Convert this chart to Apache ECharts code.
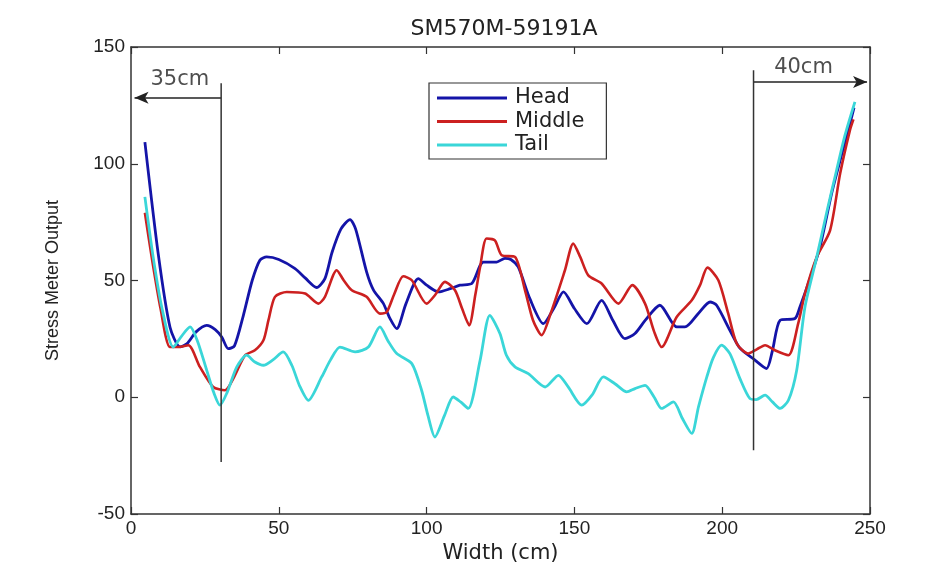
<!DOCTYPE html>
<html>
<head>
<meta charset="utf-8">
<script src="https://cdn.jsdelivr.net/npm/echarts@6/dist/echarts.min.js"></script>
<style>
  html, body { margin: 0; padding: 0; background: #ffffff; }
  #chart { width: 948px; height: 576px; }
</style>
</head>
<body>
<div id="chart"></div>
<script>
// Stress meter readings across the strip width, three measurement passes
const headX = [4.7, 9.2, 13.2, 16.6, 19, 22, 25.6, 28.5, 30.7, 32.9, 35, 38, 41, 43.6, 45.9, 50, 55.5, 59, 62.8, 65.6, 68, 71, 74.1, 76, 79.7, 82, 85.4, 87.5, 89.9, 93, 97.2, 100, 104, 108, 111.3, 115.3, 119.2, 123.7, 126.5, 128.5, 131, 135, 139.5, 143, 146.3, 150, 154.2, 159.2, 163, 167.1, 170.5, 174, 178.9, 184.6, 187.4, 192, 195.9, 198.1, 202.6, 206, 211, 215, 217, 219.6, 224.6, 226.3, 230, 233.1, 237, 240, 243.2, 244.6];
const headY = [109.3, 61.5, 30, 21.6, 23, 28, 30.8, 29, 25.8, 20.8, 22, 35, 50, 58.7, 60.1, 59, 55.1, 51, 47, 50.8, 62, 72, 76.1, 72, 53.7, 46, 40.1, 34, 29.4, 40, 50.8, 48, 45.1, 46.5, 48, 48.7, 57.9, 57.9, 59.5, 59, 55.8, 42, 31.5, 38, 45.1, 38, 31.5, 41.5, 33, 25.1, 27.3, 33, 39.4, 30.1, 30.1, 36, 40.8, 39.4, 28.7, 21, 16, 12.3, 20, 33, 33.7, 38.7, 52, 64.4, 87.2, 102, 117.2, 124];

const middleX = [4.7, 7, 10, 13.2, 16, 19.4, 23.3, 27.8, 31.8, 35, 38.6, 41.9, 44.8, 46.5, 48.7, 52.7, 58.9, 63.4, 65.6, 69.6, 72, 74.7, 79.7, 84.2, 86.5, 89, 92.1, 95, 100, 103, 106.2, 109.6, 112, 114.4, 116.5, 118.1, 120.3, 123.1, 125.4, 129.9, 133.3, 136, 138.9, 142, 146.8, 149.6, 152, 154.7, 159.2, 164.9, 169.6, 173.9, 177, 179.5, 184.6, 189.7, 192.5, 195, 198.7, 202, 204.9, 208.8, 211.7, 214.5, 218, 222.4, 225.7, 228, 232, 236.5, 239.9, 243.2, 244.4];
const middleY = [79, 60, 38, 21.5, 21.5, 22.3, 13, 4.4, 3, 9, 18, 20.1, 24.4, 33, 43, 45.1, 44.4, 40.1, 43, 54.4, 50, 45.8, 43, 35.8, 36.5, 44, 51.8, 50.1, 40.1, 44, 49.4, 45.8, 38, 30.8, 44, 55.8, 68, 67.2, 60.8, 60.1, 45.8, 33, 26.6, 36, 54.4, 65.8, 60, 52.2, 48.7, 40.1, 48, 40.1, 28, 21.5, 34.4, 41.5, 48, 55.5, 50.1, 36, 23, 18.7, 20.5, 22.3, 20, 18, 31.5, 44.4, 60.1, 71.5, 95.8, 114.3, 119];

const tailX = [4.7, 7.5, 10.5, 14.3, 17, 20, 22.5, 25.6, 28, 30.1, 32.5, 35.8, 39.1, 41.9, 44.8, 48, 51.5, 54.4, 57, 60, 64.5, 67.5, 70.7, 75.8, 80.3, 84.2, 87, 89.9, 95, 98.3, 100.5, 102.8, 106, 109, 111.5, 114.1, 118.1, 121.4, 124.8, 127, 129.9, 134.4, 140.1, 144.6, 147.9, 152.5, 156, 159.8, 163.7, 167.7, 170.5, 173.9, 177, 179.5, 183.5, 186.5, 189.7, 192, 194.8, 197, 199.8, 202.6, 206, 209.4, 211.5, 214.5, 217, 219.6, 222.4, 225.2, 228, 232, 235.5, 238.7, 241.5, 244.9];
const tailY = [85.8, 60, 38, 21.5, 26, 30.1, 24, 11.6, 2, -3.4, 2, 13, 18, 15.1, 13.7, 16, 19.4, 13.7, 5, -1.3, 8.7, 16, 21.5, 19.4, 21.5, 30.1, 24, 18.7, 14.4, 3, -8, -17, -8, 0.1, -2, -4.8, 15.8, 35.1, 27.3, 18, 13, 10.1, 4.4, 9.4, 4.4, -3.4, 1, 8.7, 5.8, 2.3, 3.7, 5.1, 0, -4.8, -2, -9, -15.5, -4, 8.7, 17, 22.3, 18.7, 8, -0.6, -1, 0.9, -2, -4.8, -1.3, 11.6, 38.7, 60.1, 80, 97.2, 112, 126.5];

const seriesNames = ['Head', 'Middle', 'Tail'];

// Edge zones: vertical boundary lines, arrows and their labels (data coordinates)
const leftBoundary = [[30.5, 134.5], [30.5, -27.7]];
const rightBoundary = [[210.6, 140], [210.6, -22.7]];
const leftArrow = [[30.5, 128.3], [1.2, 128.3]];
const rightArrow = [[210.6, 135], [249, 135]];
const zoneLabels = [[16.5, 136, '35cm'], [227.5, 141, '40cm']];

const FONT = 'Liberation Sans';
const WIDE_FONT = 'DejaVu Sans';
const colors = ['#1414a8', '#cc2020', '#3ad6d8'];

const chart = echarts.init(document.getElementById('chart'), null, { renderer: 'canvas' });

const axisCommon = {
  axisLine: { show: true, onZero: false, lineStyle: { color: '#333', width: 1.5 } },
  axisTick: { show: true, inside: true, length: 7, lineStyle: { color: '#333', width: 1.2 } },
  splitLine: { show: false }
};

const option = {
  backgroundColor: '#ffffff',
  animation: false,
  title: {
    text: 'SM570M-59191A',
    left: 499, top: 13, textAlign: 'center',
    textStyle: { fontFamily: WIDE_FONT, fontSize: 22, fontWeight: 'normal', color: '#222' }
  },
  grid: { left: 131, right: 78, top: 47, bottom: 62 },
  legend: {
    data: seriesNames.map(n => ({ name: n, icon: 'rect' })),
    orient: 'vertical',
    left: 429, top: 83,
    padding: [4, 22, 3, 8],
    itemWidth: 70, itemHeight: 3, itemGap: 1.5,
    borderColor: '#333', borderWidth: 1.2,
    backgroundColor: '#fff',
    textStyle: { fontFamily: WIDE_FONT, fontSize: 21, lineHeight: 22, color: '#222', padding: [0, 0, 0, 3] }
  },
  xAxis: [
    Object.assign({}, axisCommon, {
      type: 'value', min: 0, max: 250, interval: 50, position: 'bottom',
      name: 'Width (cm)', nameLocation: 'middle', nameGap: 25,
      nameTextStyle: { fontFamily: WIDE_FONT, fontSize: 21, color: '#222' },
      axisLabel: { fontFamily: FONT, fontSize: 19, color: '#222', margin: 5 }
    }),
    Object.assign({}, axisCommon, {
      type: 'value', min: 0, max: 250, interval: 50, position: 'top',
      axisLabel: { show: false }
    })
  ],
  yAxis: [
    Object.assign({}, axisCommon, {
      type: 'value', min: -50, max: 150, interval: 50, position: 'left',
      name: 'Stress Meter Output', nameLocation: 'middle', nameGap: 69,
      nameTextStyle: { fontFamily: FONT, fontSize: 18, color: '#222' },
      axisLabel: { fontFamily: FONT, fontSize: 19, color: '#222', margin: 6 }
    }),
    Object.assign({}, axisCommon, {
      type: 'value', min: -50, max: 150, interval: 50, position: 'right',
      axisLabel: { show: false }
    })
  ],
  series: [
    {
      name: 'Head', type: 'line', data: headX.map((x, i) => [x, headY[i]]), smooth: 0.25,
      showSymbol: false, symbol: 'none', color: colors[0],
      lineStyle: { width: 2.8, color: colors[0] }, z: 3
    },
    {
      name: 'Middle', type: 'line', data: middleX.map((x, i) => [x, middleY[i]]), smooth: 0.25,
      showSymbol: false, symbol: 'none', color: colors[1],
      lineStyle: { width: 2.6, color: colors[1] }, z: 4
    },
    {
      name: 'Tail', type: 'line', data: tailX.map((x, i) => [x, tailY[i]]), smooth: 0.25,
      showSymbol: false, symbol: 'none', color: colors[2],
      lineStyle: { width: 2.8, color: colors[2] }, z: 5
    },
    {
      name: 'leftBoundary', type: 'line', data: leftBoundary, symbol: 'none',
      lineStyle: { width: 1.5, color: '#333' }, z: 6, silent: true
    },
    {
      name: 'rightBoundary', type: 'line', data: rightBoundary, symbol: 'none',
      lineStyle: { width: 1.5, color: '#333' }, z: 6, silent: true
    },
    {
      name: 'arrows', type: 'line', data: [], silent: true,
      markLine: {
        silent: true, animation: false,
        symbol: ['none', 'arrow'], symbolSize: [9, 14],
        label: { show: false },
        lineStyle: { type: 'solid', color: '#222', width: 1.5 },
        data: [
          [{ coord: leftArrow[0] }, { coord: leftArrow[1] }],
          [{ coord: rightArrow[0] }, { coord: rightArrow[1] }]
        ]
      }
    },
    {
      name: 'zoneLabels', type: 'scatter', data: zoneLabels, symbolSize: 0, silent: true,
      label: {
        show: true, position: 'inside', formatter: p => p.value[2],
        fontFamily: WIDE_FONT, fontSize: 21, color: '#222'
      }
    }
  ]
};

chart.setOption(option);
</script>
</body>
</html>
